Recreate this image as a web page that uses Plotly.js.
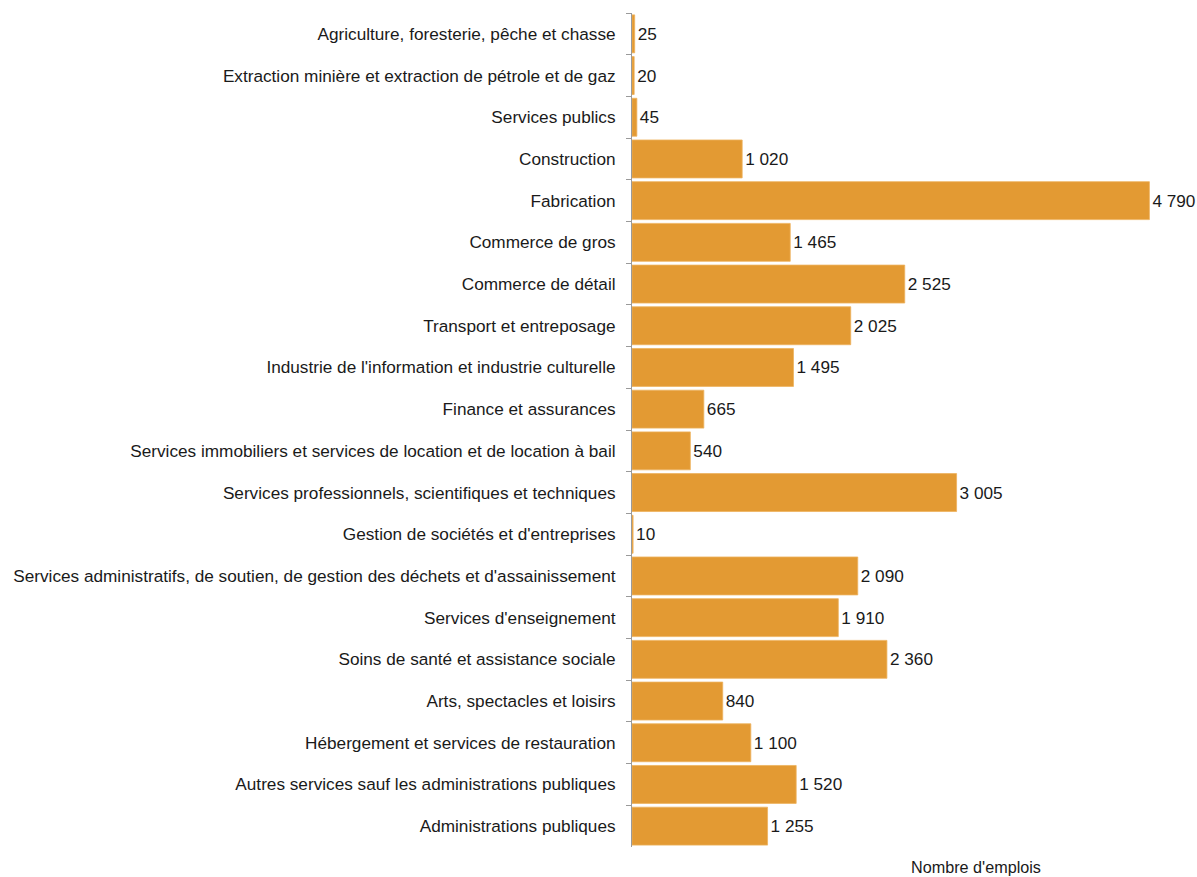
<!DOCTYPE html>
<html>
<head>
<meta charset="utf-8">
<script src="https://cdn.plot.ly/plotly-3.0.1.min.js"></script>
<style>html,body{margin:0;padding:0;background:#fff;}#chart{width:1197px;height:877px;}</style>
</head>
<body>
<div id="chart"></div>
<script>
const categories = [
  "Agriculture, foresterie, pêche et chasse",
  "Extraction minière et extraction de pétrole et de gaz",
  "Services publics",
  "Construction",
  "Fabrication",
  "Commerce de gros",
  "Commerce de détail",
  "Transport et entreposage",
  "Industrie de l'information et industrie culturelle",
  "Finance et assurances",
  "Services immobiliers et services de location et de location à bail",
  "Services professionnels, scientifiques et techniques",
  "Gestion de sociétés et d'entreprises",
  "Services administratifs, de soutien, de gestion des déchets et d'assainissement",
  "Services d'enseignement",
  "Soins de santé et assistance sociale",
  "Arts, spectacles et loisirs",
  "Hébergement et services de restauration",
  "Autres services sauf les administrations publiques",
  "Administrations publiques"
];
const emplois = [25, 20, 45, 1020, 4790, 1465, 2525, 2025, 1495, 665, 540, 3005, 10, 2090, 1910, 2360, 840, 1100, 1520, 1255];
const axisTitle = "Nombre d'emplois";

const FONT = "'Liberation Sans Narrow', 'Arial Narrow', 'Liberation Sans', Arial, sans-serif";
const FS = 17.2;

const trace = {
  type: 'bar',
  orientation: 'h',
  y: categories,
  x: emplois,
  marker: {color: '#E39A33', line: {color: '#EDB25E', width: 0.8}},
  texttemplate: '%{x:,}',
  textposition: 'outside',
  cliponaxis: false,
  textfont: {family: FONT, size: FS, color: '#1a1a1a'},
  hoverinfo: 'skip'
};

const layout = {
  width: 1197,
  height: 877,
  margin: {l: 632, r: 26, t: 13, b: 30},
  paper_bgcolor: '#fff',
  plot_bgcolor: '#fff',
  separators: ', ',
  bargap: 0.09,
  showlegend: false,
  font: {family: FONT, size: FS, color: '#1a1a1a'},
  xaxis: {
    range: [0, 4990],
    showticklabels: false,
    showgrid: false,
    zeroline: false,
    showline: false,
    ticks: ''
  },
  yaxis: {
    type: 'category',
    autorange: 'reversed',
    showline: true,
    linecolor: '#9a9a9a',
    linewidth: 1,
    ticks: 'outside',
    tickson: 'boundaries',
    ticklen: 5,
    tickcolor: '#9a9a9a',
    ticklabelstandoff: 12,
    showgrid: false,
    zeroline: false,
    tickfont: {family: FONT, size: FS, color: '#1a1a1a'}
  },
  annotations: [{
    text: axisTitle,
    xref: 'paper', yref: 'paper',
    x: 0.638, y: 0,
    xanchor: 'center', yanchor: 'middle',
    yshift: -20,
    showarrow: false,
    font: {family: FONT, size: FS - 1, color: '#1a1a1a'}
  }]
};

Plotly.newPlot('chart', [trace], layout, {displayModeBar: false, staticPlot: true});
</script>
</body>
</html>
